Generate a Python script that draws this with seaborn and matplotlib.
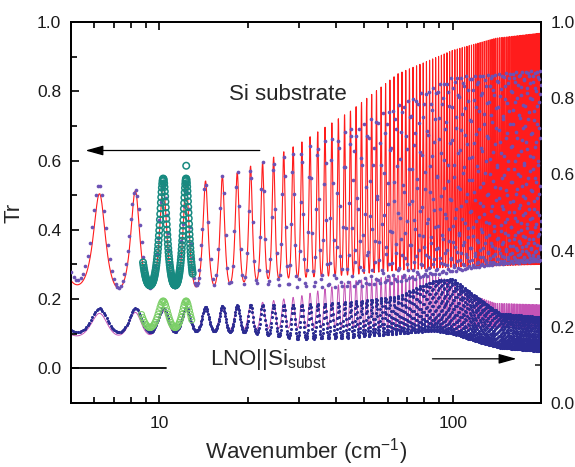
import numpy as np
import pandas as pd
import matplotlib
matplotlib.use("Agg")
import matplotlib.pyplot as plt
from matplotlib import ticker
import seaborn as sns

# ---------------- data ----------------
# Fabry-Perot fringes of the Si wafer: peak positions and period (cm^-1)
FRINGE_FIRST_PEAK = 6.25
FRINGE_PERIOD = 2.03
# above this wavenumber the measured Si fringes are no longer resolved (aliased)
ALIAS_START = 45.0
ALIAS_PHASE_STEP = 0.6180339887   # fringe phase advance between aliased samples

# Si substrate, calculated (red line) - envelope of the fringes (left axis)
si_env_w   = [5.0, 6.25, 8.28, 10.3, 12.3, 14.4, 16.4, 18.4, 20.5, 22.5, 30.0, 45.0, 65.0, 100.0, 140.0, 200.0]
si_env_top = [0.505, 0.505, 0.513, 0.53, 0.54, 0.542, 0.556, 0.565, 0.585, 0.594, 0.65, 0.745, 0.852, 0.92, 0.955, 0.97]
si_env_bot = [0.243, 0.235, 0.229, 0.228, 0.232, 0.238, 0.243, 0.247, 0.252, 0.258, 0.262, 0.27, 0.283, 0.292, 0.296, 0.30]

# Si substrate, measured (purple dots)
si_dot_w   = [5.0, 6.25, 8.28, 10.3, 14.0, 20.0, 30.0, 45.0, 65.0, 100.0, 140.0, 200.0]
si_dot_top = [0.53, 0.53, 0.515, 0.54, 0.54, 0.58, 0.63, 0.69, 0.76, 0.84, 0.85, 0.86]
si_dot_bot = [0.26, 0.235, 0.23, 0.232, 0.24, 0.245, 0.235, 0.235, 0.25, 0.28, 0.30, 0.31]

# Si substrate, second measurement (teal open circles)
teal_range = [8.8, 13.0]
teal_top, teal_bot = 0.548, 0.24
teal_outlier_w, teal_outlier_y = [12.35], [0.585]

# LNO||Si, calculated (magenta line) - right axis
lno_env_w   = [5.0, 7.0, 10.0, 14.0, 20.0, 30.0, 45.0, 65.0, 85.0, 100.0, 120.0, 140.0, 200.0]
lno_env_top = [0.234, 0.236, 0.24, 0.25, 0.258, 0.28, 0.32, 0.335, 0.335, 0.32, 0.28, 0.262, 0.258]
lno_env_bot = [0.176, 0.178, 0.18, 0.19, 0.195, 0.197, 0.197, 0.19, 0.185, 0.19, 0.195, 0.197, 0.197]

# LNO||Si, measured (navy dots) - right axis
lno_dot_w   = [5.0, 7.0, 10.0, 14.0, 20.0, 30.0, 45.0, 65.0, 85.0, 100.0, 120.0, 145.0, 200.0]
lno_dot_top = [0.25, 0.248, 0.25, 0.252, 0.258, 0.258, 0.265, 0.28, 0.32, 0.326, 0.28, 0.235, 0.225]
lno_dot_bot = [0.186, 0.186, 0.186, 0.19, 0.185, 0.168, 0.172, 0.182, 0.19, 0.182, 0.162, 0.145, 0.136]

# LNO||Si, second measurement (green open circles)
green_range = [8.7, 12.9]
green_top, green_bot = 0.268, 0.198

# annotations
zero_line_w, zero_line_y = [5.0, 10.5], [0.0, 0.0]
arrow_si_from, arrow_si_to = (22.0, 0.629), (5.6, 0.629)        # left axis
arrow_lno_from, arrow_lno_to = (85.3, 0.116), (165.0, 0.116)    # right axis
label_si = ("Si substrate", 17.3, 0.774)
label_lno = ("LNO||Si$_{\\mathregular{subst}}$", 14.9, 0.10)

X_LIM = (5, 200)
Y_LEFT = (-0.1, 1.0)
Y_RIGHT = (0.0, 1.0)
x_major = [10, 100]

# ---------------- helpers ----------------
def envelope(w, ew, ev):
    return np.interp(np.log10(w), np.log10(ew), ev)

def airy_phase(ph, F):
    g = 1.0 / (1.0 + F * np.sin(np.pi * ph) ** 2)
    gmin = 1.0 / (1.0 + F)
    return (g - gmin) / (1.0 - gmin)

def phase_of(w):
    return (w - FRINGE_FIRST_PEAK) / FRINGE_PERIOD

def fringes(w, ew, etop, ebot, F, ph=None):
    if ph is None:
        ph = phase_of(w)
    top = envelope(w, ew, etop)
    bot = envelope(w, ew, ebot)
    return bot + (top - bot) * airy_phase(ph, F)

# sampling grids of the spectra
w_line = np.arange(X_LIM[0], X_LIM[1], FRINGE_PERIOD / 40)
w_si_res = np.concatenate([np.arange(5.0, 14.0, 0.10), np.arange(14.0, ALIAS_START, 0.236)])
w_si_alias = np.arange(ALIAS_START, 200.0, 0.23)
ph_si_alias = (np.arange(len(w_si_alias)) * ALIAS_PHASE_STEP) % 1.0
w_lno_dots = np.concatenate([np.arange(5.0, 20.0, 0.07), np.arange(20.0, 200.0, 0.104)])
w_teal = np.arange(teal_range[0], teal_range[1], 0.026)
w_green = np.arange(green_range[0], green_range[1], 0.075)

si_line = pd.DataFrame({"w": w_line, "Tr": fringes(w_line, si_env_w, si_env_top, si_env_bot, 2.4)})
si_dots = pd.DataFrame({
    "w": np.concatenate([w_si_res, w_si_alias]),
    "Tr": np.concatenate([fringes(w_si_res, si_dot_w, si_dot_top, si_dot_bot, 1.0),
                          fringes(w_si_alias, si_dot_w, si_dot_top, si_dot_bot, 1.0, ph_si_alias)])})
teal = pd.DataFrame({"w": np.concatenate([w_teal, teal_outlier_w]),
                     "Tr": np.concatenate([teal_bot + (teal_top - teal_bot) * airy_phase(phase_of(w_teal), 2.4),
                                           teal_outlier_y])})
lno_line = pd.DataFrame({"w": w_line, "Tr": fringes(w_line, lno_env_w, lno_env_top, lno_env_bot, 0.8)})
lno_dots = pd.DataFrame({"w": w_lno_dots, "Tr": fringes(w_lno_dots, lno_dot_w, lno_dot_top, lno_dot_bot, 0.8)})
green = pd.DataFrame({"w": w_green,
                      "Tr": green_bot + (green_top - green_bot) * airy_phase(phase_of(w_green), 0.8)})

# ---------------- drawing ----------------
sns.set_theme(style="ticks")
plt.rcParams["font.family"] = ["Liberation Sans", "DejaVu Sans"]
plt.rcParams["mathtext.fontset"] = "custom"
plt.rcParams["mathtext.rm"] = "Liberation Sans"

RED = "#ff1c1c"
PURPLE = "#6c52b4"
TEAL = "#178a80"
MAGENTA = "#c453b6"
NAVY = "#2c2c92"
GREEN = "#7ccf68"

fig = plt.figure(figsize=(5.75, 4.67), dpi=100)
ax = fig.add_axes([0.1235, 0.137, 0.8174, 0.8159])
ax2 = ax.twinx()
ax.patch.set_visible(False)
ax2.patch.set_visible(True)
ax2.patch.set_facecolor("white")
ax.set_zorder(2)
ax2.set_zorder(1)

# LNO on the right axis (drawn below the Si data)
sns.lineplot(data=lno_line, x="w", y="Tr", ax=ax2, color=MAGENTA, lw=0.7,
             sort=False, estimator=None, zorder=2)
sns.scatterplot(data=lno_dots, x="w", y="Tr", ax=ax2, color=NAVY, s=5, linewidth=0, zorder=3)
ax2.scatter(green["w"], green["Tr"], s=18, facecolors="none", edgecolors=GREEN,
            linewidths=0.8, zorder=4)

# Si on the left axis
sns.lineplot(data=si_line, x="w", y="Tr", ax=ax, color=RED, lw=0.8,
             sort=False, estimator=None, zorder=2)
sns.scatterplot(data=si_dots, x="w", y="Tr", ax=ax, color=PURPLE, s=7, linewidth=0, zorder=3)
ax.scatter(teal["w"], teal["Tr"], s=22, facecolors="none", edgecolors=TEAL,
           linewidths=1.1, zorder=4)

ax.plot(zero_line_w, zero_line_y, color="black", lw=1.3)

arrow_kw = dict(arrowstyle="-|>,head_length=0.9,head_width=0.25", color="black", lw=0.9,
                shrinkA=0, shrinkB=0)
ax.annotate("", xy=arrow_si_to, xytext=arrow_si_from, arrowprops=arrow_kw)
ax2.annotate("", xy=arrow_lno_to, xytext=arrow_lno_from, arrowprops=arrow_kw)

ax.text(label_si[1], label_si[2], label_si[0], fontsize=16, ha="left", va="baseline")
ax.text(label_lno[1], label_lno[2], label_lno[0], fontsize=16, ha="left", va="baseline",
        transform=ax2.transData)

# axes formatting
for a in (ax, ax2):
    a.set_xscale("log")
    a.set_xlim(*X_LIM)
ax.set_ylim(*Y_LEFT)
ax2.set_ylim(*Y_RIGHT)

ax.xaxis.set_major_locator(ticker.FixedLocator(x_major))
ax.xaxis.set_minor_locator(ticker.LogLocator(base=10, subs=np.arange(2, 10)))
ax.xaxis.set_major_formatter(ticker.FuncFormatter(lambda v, _: f"{v:g}"))
ax.xaxis.set_minor_formatter(ticker.NullFormatter())

ax.yaxis.set_major_locator(ticker.FixedLocator([0.0, 0.2, 0.4, 0.6, 0.8, 1.0]))
ax.yaxis.set_minor_locator(ticker.MultipleLocator(0.1))
ax.yaxis.set_major_formatter(ticker.FormatStrFormatter("%.1f"))
ax2.yaxis.set_major_locator(ticker.FixedLocator([0.0, 0.2, 0.4, 0.6, 0.8, 1.0]))
ax2.yaxis.set_minor_locator(ticker.MultipleLocator(0.1))
ax2.yaxis.set_major_formatter(ticker.FormatStrFormatter("%.1f"))

ax.tick_params(axis="both", which="both", direction="in", colors="black", labelcolor="#1a1a1a",
               labelsize=12.5, width=1.2)
ax.tick_params(axis="x", which="both", top=True, bottom=True, pad=9)
ax.tick_params(axis="y", which="both", left=True, right=False, pad=7)
ax.tick_params(which="major", length=6)
ax.tick_params(which="minor", length=4)
ax2.tick_params(axis="y", which="both", direction="in", right=True, labelsize=12.5,
                labelcolor="#1a1a1a", width=1.2, pad=7)
ax2.tick_params(axis="y", which="major", length=6)
ax2.tick_params(axis="y", which="minor", length=4)
ax2.tick_params(axis="x", which="both", bottom=False, top=False, labelbottom=False)

for a in (ax, ax2):
    for sp in a.spines.values():
        sp.set_linewidth(1.3)
        sp.set_color("black")

ax.set_xlabel("Wavenumber (cm$^{\\mathregular{-1}}$)", fontsize=16)
ax.set_ylabel("Tr", fontsize=16)
ax2.set_ylabel("")
ax.xaxis.set_label_coords(0.5, -0.088)
ax.yaxis.set_label_coords(-0.098, 0.5)

fig.savefig("out.png", dpi=100)
